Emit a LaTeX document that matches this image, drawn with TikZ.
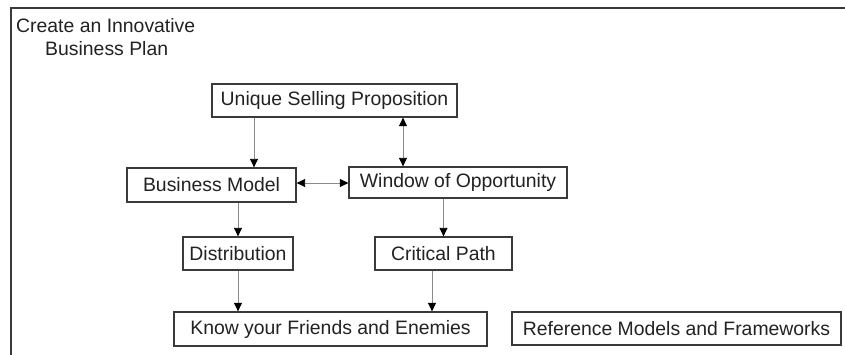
\documentclass[tikz,border=0pt]{standalone}
\usepackage{fontspec}
\setmainfont{Liberation Sans}
\usetikzlibrary{arrows.meta}
\definecolor{boxline}{HTML}{3A3A3A}
\definecolor{linkline}{HTML}{8A8A8A}
\definecolor{ink}{HTML}{222222}
\begin{document}
\begin{tikzpicture}[x=1pt,y=-1pt,
  every node/.style={font=\fontsize{19.4}{23}\selectfont, text=ink},
  stepbox/.style={draw=boxline, line width=1.3pt, fill=white, inner sep=0pt, anchor=center},
  link/.style={draw=linkline, line width=0.9pt},
  headtip/.tip={Triangle[length=8.5pt,width=8pt,color=black]},
  fwd/.style={link,-{headtip}},
  both/.style={link,{headtip}-{headtip}}]
\useasboundingbox (0,0) rectangle (845,355);
\fill[white] (0,0) rectangle (845,355);
% frame edges
\draw[boxline, line width=2pt] (10.5,355) -- (10.5,8.5) -- (845,8.5);
% title
\node[anchor=base west, inner sep=0pt] (t1) at (16,33) {Create an Innovative};
\node[anchor=base west, inner sep=0pt] (t2) at (45,56) {Business Plan};
% boxes
\node[stepbox, minimum width=245pt, minimum height=33pt] (usp) at (334.5,100.5) {Unique Selling Proposition};
\node[stepbox, minimum width=169pt, minimum height=34pt] (bm) at (211.5,185) {Business Model};
\node[stepbox, minimum width=218pt, minimum height=31pt] (woo) at (458,182.5) {Window of Opportunity};
\node[stepbox, minimum width=110pt, minimum height=33pt] (dist) at (238,253.5) {Distribution};
\node[stepbox, minimum width=137pt, minimum height=33pt] (cp) at (443.5,253.5) {Critical Path};
\node[stepbox, minimum width=313pt, minimum height=34pt] (know) at (330.5,329) {Know your Friends and Enemies};
\node[stepbox, minimum width=329pt, minimum height=33pt] (ref) at (676.5,328.5) {Reference Models and Frameworks};
% connector positions
\coordinate (xa) at (254,0);
\coordinate (xb) at (403,0);
\coordinate (yc) at (0,183);
\coordinate (xd) at (432,0);
% connectors
\draw[fwd] (usp.south -| xa) -- (bm.north -| xa);
\draw[both] (usp.south -| xb) -- (woo.north -| xb);
\draw[both] (bm.east |- yc) -- (woo.west |- yc);
\draw[fwd] (bm.south -| dist.north) -- (dist.north);
\draw[fwd] (woo.south -| cp.north) -- (cp.north);
\draw[fwd] (dist.south) -- (know.north -| dist.south);
\draw[fwd] (cp.south -| xd) -- (know.north -| xd);
\end{tikzpicture}
\end{document}
